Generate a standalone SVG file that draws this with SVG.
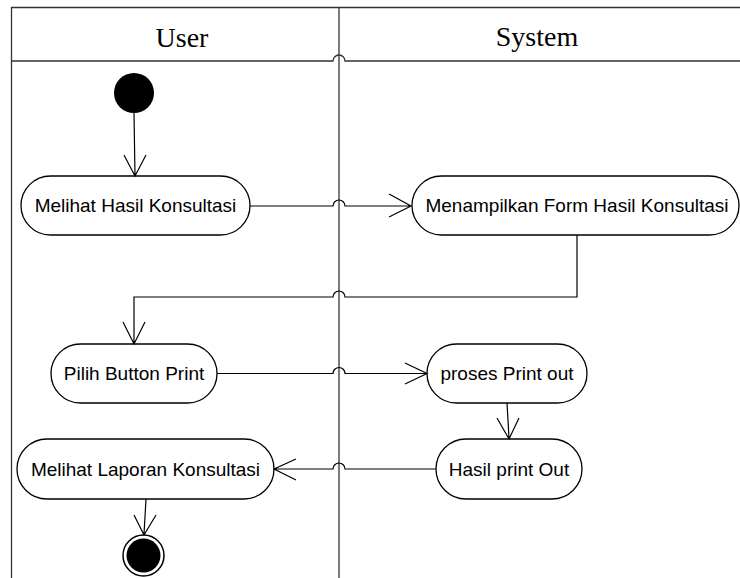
<svg xmlns="http://www.w3.org/2000/svg" width="740" height="578" viewBox="0 0 740 578">
<style>
.lane{fill:none;stroke:#333;stroke-width:1.3}
.act{fill:#fff;stroke:#000;stroke-width:1.3}
.lbl{font-family:"Liberation Sans",Arial,sans-serif;font-size:19px;fill:#000;text-anchor:middle}
.hdr{font-family:"Liberation Serif","Times New Roman",serif;font-size:28px;fill:#000;text-anchor:middle}
.con{fill:none;stroke:#000;stroke-width:1.2}
</style>
<rect width="740" height="578" fill="#fff"/>
<g id="lanes">
<path class="lane" d="M740,7.5 H11.5 V578"/>
<path class="lane" d="M339,7.5 V578"/>
<path class="lane" d="M11.5,61 H333 A6,6 0 0 1 345,61 H740"/>
<text class="hdr" x="182" y="47">User</text>
<text class="hdr" x="537" y="46">System</text>
</g>
<g id="start"><circle cx="134" cy="93" r="20" fill="#000"/></g>
<g id="n1"><rect class="act" x="21" y="176" width="229" height="59" rx="29.5"/><text class="lbl" x="135.5" y="212">Melihat Hasil Konsultasi</text></g>
<g id="n2"><rect class="act" x="412" y="176" width="327" height="59" rx="29.5"/><text class="lbl" x="577" y="212">Menampilkan Form Hasil Konsultasi</text></g>
<g id="n3"><rect class="act" x="51" y="344" width="166" height="59" rx="29.5"/><text class="lbl" x="134" y="380">Pilih Button Print</text></g>
<g id="n4"><rect class="act" x="427" y="344" width="160" height="59" rx="29.5"/><text class="lbl" x="507" y="380">proses Print out</text></g>
<g id="n5"><rect class="act" x="436" y="439" width="146" height="60" rx="30"/><text class="lbl" x="509" y="475.5">Hasil print Out</text></g>
<g id="n6"><rect class="act" x="17" y="439" width="257" height="60" rx="30"/><text class="lbl" x="145.5" y="475.5">Melihat Laporan Konsultasi</text></g>
<g id="end"><circle cx="143.5" cy="555.5" r="20.5" fill="#fff" stroke="#000" stroke-width="1.5"/><circle cx="143.5" cy="555.5" r="17" fill="#000"/></g>
<g id="connectors">
<path class="con" d="M134,113 L135,176 M124,155 L135,176 L146,155"/>
<path class="con" d="M250,206 H333 A6,6 0 0 1 345,206 H411 M389,194 L411,206 L389,217"/>
<path class="con" d="M577,235 V297 H345 A6,6 0 0 0 333,297 H134 V343 M123,322 L134,344 L145,322"/>
<path class="con" d="M217,373.5 H333 A6,6 0 0 1 345,373.5 H426 M405,363 L427,373.5 L405,384"/>
<path class="con" d="M507,403 L509,438 M497,418 L509,439 L519,418"/>
<path class="con" d="M436,469 H345 A6,6 0 0 0 333,469 H275 M296,459 L274,469 L296,480"/>
<path class="con" d="M146,499 L144,534 M134,515 L144,535 L156,515"/>
</g>
</svg>
